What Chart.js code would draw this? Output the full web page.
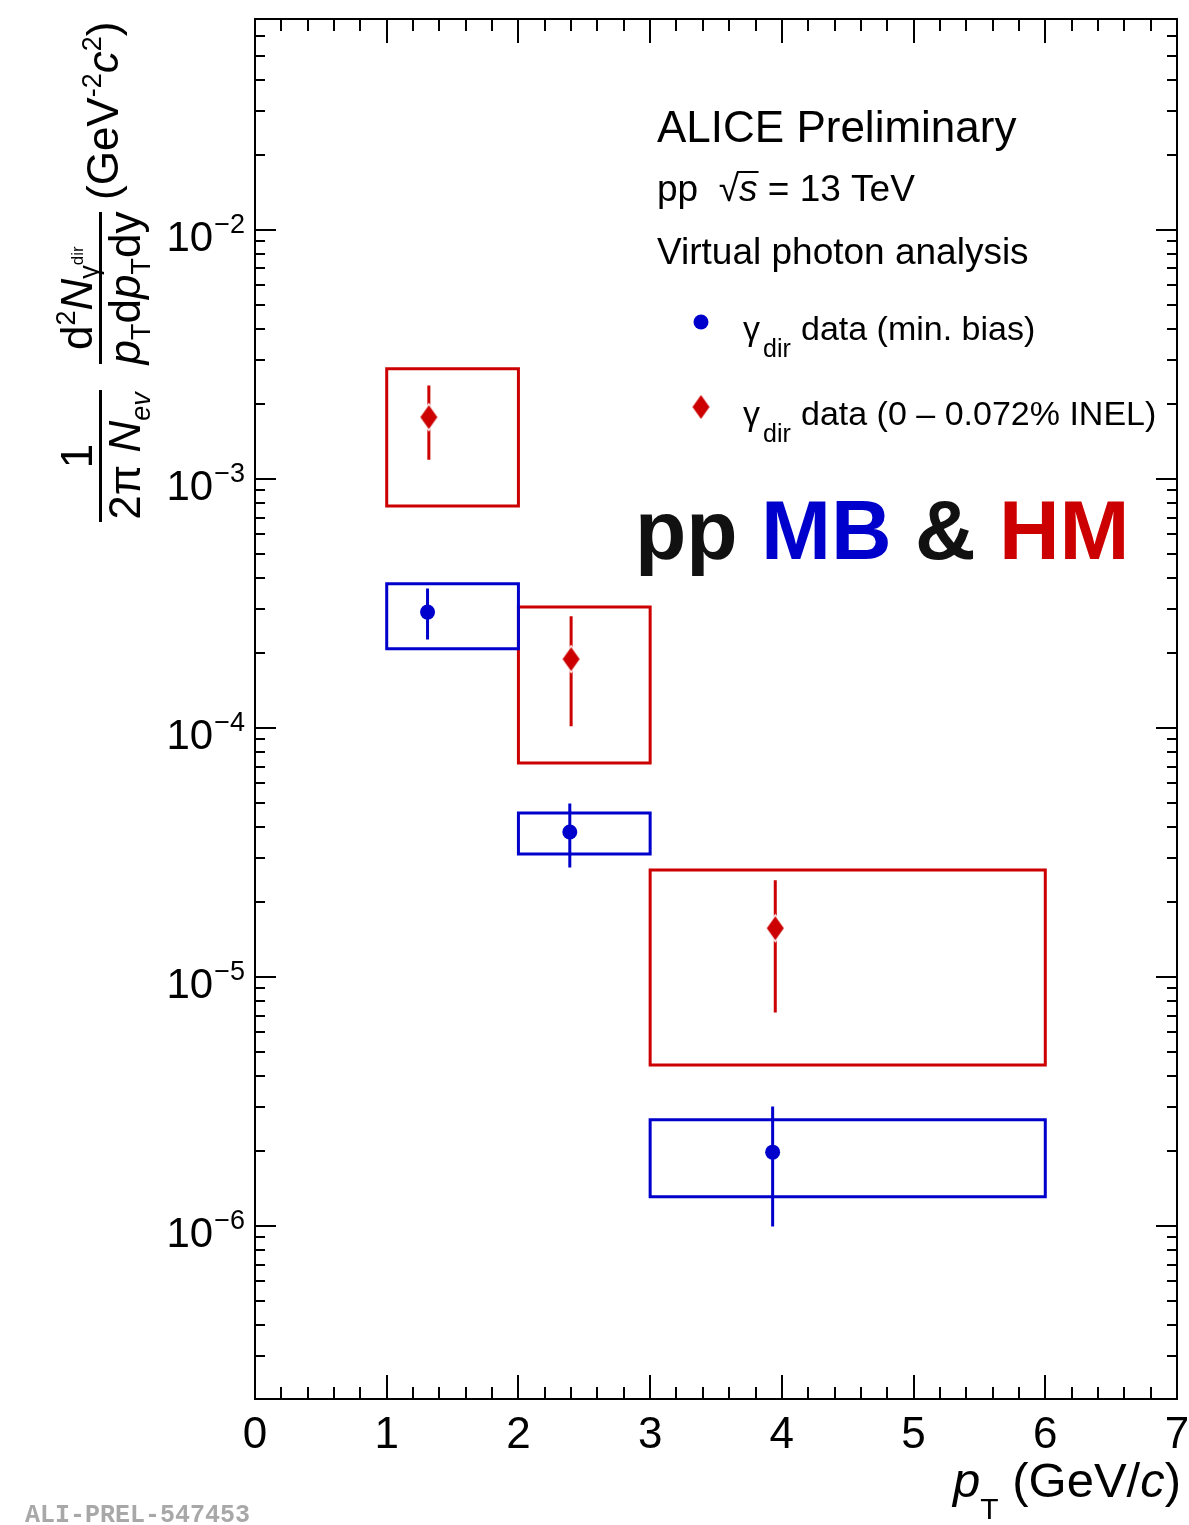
<!DOCTYPE html>
<html><head><meta charset="utf-8">
<script src="https://cdn.jsdelivr.net/npm/chart.js@4.4.0/dist/chart.umd.min.js"></script>
<style>html,body{margin:0;padding:0;background:#fff;}#wrap{width:1189px;height:1525px;}</style>
</head><body><div id="wrap"><canvas id="c" width="1189" height="1525"></canvas></div>
<script>
// ---- data ----
const binLow  = [1, 2, 3];
const binHigh = [2, 3, 6];
const mbX      = [1.31, 2.39, 3.93];
const mbY      = [2.92e-4, 3.82e-5, 1.98e-6];
const mbStatHi = [3.58e-4, 4.91e-5, 2.98e-6];
const mbStatLo = [2.30e-4, 2.79e-5, 1.01e-6];
const mbSysHi  = [3.79e-4, 4.56e-5, 2.67e-6];
const mbSysLo  = [2.08e-4, 3.12e-5, 1.31e-6];
const hmX      = [1.32, 2.40, 3.95];
const hmY      = [1.77e-3, 1.89e-4, 1.57e-5];
const hmStatHi = [2.34e-3, 2.77e-4, 2.41e-5];
const hmStatLo = [1.21e-3, 1.03e-4, 7.30e-6];
const hmSysHi  = [2.77e-3, 3.06e-4, 2.69e-5];
const hmSysLo  = [7.79e-4, 7.24e-5, 4.43e-6];
const xTickLabels = [0, 1, 2, 3, 4, 5, 6, 7];
const yDecades = [-6, -5, -4, -3, -2];
const xMin = 0, xMax = 7, yMin = 2.02e-7, yMax = 0.0703;

const BLUE = '#0000cc', RED = '#cc0000';
const FAM = '"Liberation Sans", Arial, Helvetica, sans-serif';

function boxData(lo, hi, ylo, yhi) {
  const d = [];
  for (let i = 0; i < lo.length; i++) {
    d.push({x: lo[i], y: ylo[i]}, {x: hi[i], y: ylo[i]}, {x: hi[i], y: yhi[i]},
           {x: lo[i], y: yhi[i]}, {x: lo[i], y: ylo[i]}, {x: null, y: null});
  }
  return d;
}
function errData(x, lo, hi) {
  const d = [];
  for (let i = 0; i < x.length; i++) d.push({x: x[i], y: lo[i]}, {x: x[i], y: hi[i]}, {x: null, y: null});
  return d;
}
function ptData(x, y) { return x.map((v, i) => ({x: v, y: y[i]})); }

function makeDiamond(w, h, color, gap) {
  const m = 6;
  const c = document.createElement('canvas');
  c.width = w + 2 * m; c.height = h + 2 * m;
  const g = c.getContext('2d');
  const cx = c.width / 2, cy = c.height / 2;
  g.beginPath();
  g.moveTo(cx, cy - h / 2); g.lineTo(cx + w / 2, cy); g.lineTo(cx, cy + h / 2); g.lineTo(cx - w / 2, cy);
  g.closePath();
  g.lineJoin = 'miter'; g.lineWidth = gap * 2; g.strokeStyle = '#fff'; g.stroke();
  g.fillStyle = color; g.fill();
  return c;
}
const diamond = makeDiamond(17, 24, RED, 1.5);

function lineDs(data, color, order) {
  return {data, showLine: true, borderColor: color, borderWidth: 3, pointRadius: 0,
    pointHoverRadius: 0, fill: false, tension: 0, spanGaps: false, order,
    borderCapStyle: 'square', borderJoinStyle: 'miter'};
}

function font(size, style, weight) { return (style || 'normal') + ' ' + (weight || 'normal') + ' ' + size + 'px ' + FAM; }
function richWidth(ctx, segs) {
  let w = 0;
  for (const s of segs) { ctx.font = font(s.size, s.style, s.weight); w += ctx.measureText(s.t).width + (s.dx || 0); }
  return w;
}
function drawRich(ctx, segs, x, y) {
  let cx = x;
  ctx.textAlign = 'left'; ctx.textBaseline = 'alphabetic';
  for (const s of segs) {
    ctx.font = font(s.size, s.style, s.weight);
    ctx.fillStyle = s.color || '#000';
    cx += (s.dx || 0);
    ctx.fillText(s.t, cx, y + (s.dy || 0));
    cx += ctx.measureText(s.t).width;
  }
  return cx;
}
// text running upward: Y = original start y (bottom end), X = baseline x
function drawUp(ctx, segs, X, Y) {
  ctx.save(); ctx.rotate(-Math.PI / 2); drawRich(ctx, segs, -Y, X); ctx.restore();
}

const decor = {
  id: 'decor',
  afterDatasetsDraw(chart) {
    const ctx = chart.ctx, a = chart.chartArea, xs = chart.scales.x, ys = chart.scales.y;
    ctx.save();
    // frame
    ctx.strokeStyle = '#000'; ctx.lineWidth = 2;
    ctx.strokeRect(a.left, a.top, a.right - a.left, a.bottom - a.top);
    // x ticks
    ctx.beginPath();
    for (let k = 0; k <= 35; k++) {
      const v = k * 0.2; if (v < xMin || v > xMax) continue;
      const px = Math.round(xs.getPixelForValue(v));
      const L = (k % 5 === 0) ? 24 : 12;
      ctx.moveTo(px, a.bottom); ctx.lineTo(px, a.bottom - L);
      ctx.moveTo(px, a.top); ctx.lineTo(px, a.top + L);
    }
    // y ticks
    for (let e = -8; e <= -1; e++) {
      for (let m = 1; m <= 9; m++) {
        const v = m * Math.pow(10, e);
        if (v < yMin || v > yMax) continue;
        const py = Math.round(ys.getPixelForValue(v));
        const L = (m === 1) ? 21 : 10;
        ctx.moveTo(a.left, py); ctx.lineTo(a.left + L, py);
        ctx.moveTo(a.right, py); ctx.lineTo(a.right - L, py);
      }
    }
    ctx.stroke();
    // y labels
    for (const e of yDecades) {
      const py = ys.getPixelForValue(Math.pow(10, e));
      ctx.fillStyle = '#000';
      ctx.font = font(27); ctx.textAlign = 'right'; ctx.textBaseline = 'alphabetic';
      const sup = '\u2212' + (-e);
      const sw = ctx.measureText(sup).width;
      ctx.fillText(sup, 245, py + 3);
      ctx.font = font(42);
      ctx.fillText('10', 245 - sw - 1, py + 21);
    }
    // x title
    const F = 49, S = 30;
    const xt = [
      {t: 'p', size: F, style: 'italic'},
      {t: 'T', size: S, dy: 22},
      {t: ' (GeV/', size: F},
      {t: 'c', size: F, style: 'italic'},
      {t: ')', size: F}
    ];
    drawRich(ctx, xt, 1181 - richWidth(ctx, xt), 1497);

    // y title
    const YF = 44, YS = 27;
    ctx.fillStyle = '#000';
    ctx.fillRect(99, 390, 3, 132);
    const n1 = [{t: '1', size: YF}];
    drawUp(ctx, n1, 92, 456 + richWidth(ctx, n1) / 2);
    const d1 = [
      {t: '2\u03c0 ', size: YF},
      {t: 'N', size: YF, style: 'italic'},
      {t: 'ev', size: YS, style: 'italic', dy: 10}
    ];
    drawUp(ctx, d1, 140, 456 + richWidth(ctx, d1) / 2);
    ctx.fillStyle = '#000';
    ctx.fillRect(99, 212, 3, 152);
    const n2 = [
      {t: 'd', size: YF},
      {t: '2', size: YS, dy: -17},
      {t: 'N', size: YF, style: 'italic'},
      {t: '\u03b3', size: YS, dy: 6},
      {t: 'dir', size: 17, dy: -9}
    ];
    drawUp(ctx, n2, 92, 350);
    const d2 = [
      {t: 'p', size: YF, style: 'italic'},
      {t: 'T', size: YS, dy: 10},
      {t: 'd', size: YF},
      {t: 'p', size: YF, style: 'italic'},
      {t: 'T', size: YS, dy: 10},
      {t: 'dy', size: YF}
    ];
    drawUp(ctx, d2, 140, 288 + richWidth(ctx, d2) / 2);
    const u2 = [
      {t: '(GeV', size: YF},
      {t: '-2', size: YS, dy: -17},
      {t: 'c', size: YF, style: 'italic'},
      {t: '2', size: YS, dy: -17},
      {t: ')', size: YF}
    ];
    drawUp(ctx, u2, 118, 200);

    // header texts
    drawRich(ctx, [{t: 'ALICE Preliminary', size: 44}], 657, 142);
    const endS = drawRich(ctx, [{t: 'pp  ', size: 37}, {t: '\u221a', size: 37}], 657, 201);
    ctx.font = font(37, 'italic'); const sW = ctx.measureText('s').width;
    drawRich(ctx, [{t: 's', size: 37, style: 'italic'}, {t: ' = 13 TeV', size: 37}], endS, 201);
    ctx.strokeStyle = '#000'; ctx.lineWidth = 2;
    ctx.beginPath(); ctx.moveTo(endS - 2, 172); ctx.lineTo(endS + sW + 1, 172); ctx.stroke();
    drawRich(ctx, [{t: 'Virtual photon analysis', size: 37}], 657, 264);

    // legend
    ctx.fillStyle = BLUE; ctx.beginPath(); ctx.arc(701, 322, 7.5, 0, Math.PI * 2); ctx.fill();
    ctx.drawImage(diamond, 701 - diamond.width / 2, 407 - diamond.height / 2);
    drawRich(ctx, [{t: '\u03b3', size: 34}, {t: 'dir', size: 25, dy: 17, dx: 3}], 743, 340);
    drawRich(ctx, [{t: 'data (min. bias)', size: 34}], 801, 340);
    drawRich(ctx, [{t: '\u03b3', size: 34}, {t: 'dir', size: 25, dy: 17, dx: 3}], 743, 425);
    drawRich(ctx, [{t: 'data (0 \u2013 0.072% INEL)', size: 34}], 801, 425);

    // big label
    drawRich(ctx, [
      {t: 'pp ', size: 84, weight: 'bold', color: '#111'},
      {t: 'MB', size: 84, weight: 'bold', color: BLUE},
      {t: ' & ', size: 84, weight: 'bold', color: '#111'},
      {t: 'HM', size: 84, weight: 'bold', color: RED}
    ], 635, 559);

    // watermark
    ctx.font = 'bold 25px "Liberation Mono", "DejaVu Sans Mono", monospace';
    ctx.fillStyle = '#a8a8a8'; ctx.textAlign = 'left';
    ctx.fillText('ALI-PREL-547453', 25, 1522);
    ctx.restore();
  }
};

new Chart(document.getElementById('c'), {
  type: 'scatter',
  data: {
    datasets: [
      Object.assign(lineDs(boxData(binLow, binHigh, mbSysLo, mbSysHi), BLUE, 5), {label: 'MB sys'}),
      Object.assign(lineDs(boxData(binLow, binHigh, hmSysLo, hmSysHi), RED, 6), {label: 'HM sys'}),
      Object.assign(lineDs(errData(mbX, mbStatLo, mbStatHi), BLUE, 3), {label: 'MB stat'}),
      Object.assign(lineDs(errData(hmX, hmStatLo, hmStatHi), RED, 3), {label: 'HM stat'}),
      {label: 'MB', data: ptData(mbX, mbY), pointStyle: 'circle', pointRadius: 7.5, pointHoverRadius: 7.5,
       backgroundColor: BLUE, borderWidth: 0, order: 1},
      {label: 'HM', data: ptData(hmX, hmY), pointStyle: diamond, pointRadius: 12, pointHoverRadius: 12,
       backgroundColor: RED, borderWidth: 0, order: 1}
    ]
  },
  options: {
    responsive: false, animation: false, devicePixelRatio: 1,
    layout: {padding: {left: 0, top: 19, right: 10, bottom: 56}},
    plugins: {legend: {display: false}, tooltip: {enabled: false}},
    events: [],
    scales: {
      x: {
        type: 'linear', min: xMin, max: xMax,
        grid: {display: false, drawTicks: false}, border: {display: false},
        ticks: {stepSize: 1, autoSkip: false, maxRotation: 0, padding: 10, color: '#000',
          font: {family: FAM, size: 44},
          callback: (v) => xTickLabels.includes(v) ? String(v) : ''},
        afterFit: (s) => { s.height = 70; s.paddingLeft = 0; s.paddingRight = 0; }
      },
      y: {
        type: 'logarithmic', min: yMin, max: yMax,
        grid: {display: false, drawTicks: false}, border: {display: false},
        ticks: {display: false},
        afterFit: (s) => { s.width = 255; }
      }
    }
  },
  plugins: [decor]
});
</script></body></html>
